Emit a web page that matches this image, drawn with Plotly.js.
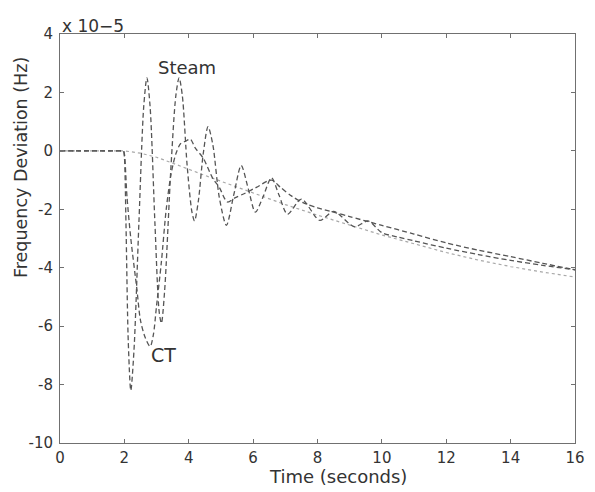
<!DOCTYPE html>
<html>
<head>
<meta charset="utf-8">
<script src="https://cdn.plot.ly/plotly-3.0.1.min.js"></script>
<style>html,body{margin:0;padding:0;background:#fff;}#chart{width:595px;height:492px;}</style>
</head>
<body>
<div id="chart"></div>
<script>
// Time axis (seconds) and frequency deviation values (x 1e-5 Hz)
const steamTime = [0, 0.5, 1.0, 1.5, 1.9, 1.97, 2.0, 2.05, 2.12, 2.2, 2.3, 2.45, 2.6, 2.7, 2.8, 2.95, 3.08, 3.15, 3.25, 3.45, 3.6, 3.7, 3.8, 3.95, 4.1, 4.18, 4.3, 4.45, 4.6, 4.75, 4.95, 5.17, 5.4, 5.63, 5.85, 6.07, 6.3, 6.57, 6.8, 7.07, 7.5, 8.07, 8.5, 9.15, 9.57, 10.0, 10.5, 11, 12, 13, 14, 15, 16];
const steamValues = [0, 0, 0, 0, 0, 0, -0.2, -2.5, -6.5, -8.2, -6.8, -2.5, 1.5, 2.5, 1.5, -2.5, -5.5, -5.9, -4.8, -0.5, 1.9, 2.5, 1.9, -0.5, -2.1, -2.4, -1.7, -0.1, 0.83, 0.2, -1.6, -2.55, -1.5, -0.5, -1.3, -2.1, -1.6, -0.92, -1.5, -2.17, -1.65, -2.38, -2.07, -2.6, -2.4, -2.8, -2.95, -3.08, -3.33, -3.55, -3.75, -3.92, -4.07];

const ctTime = [0, 0.5, 1.0, 1.5, 1.9, 1.97, 2.0, 2.08, 2.2, 2.39, 2.5, 2.65, 2.8, 2.9, 3.0, 3.15, 3.3, 3.45, 3.6, 3.75, 3.9, 4.05, 4.2, 4.45, 4.75, 4.95, 5.2, 5.45, 5.75, 6.1, 6.57, 6.85, 7.2, 7.6, 8.0, 8.5, 9, 10, 11, 12, 13, 14, 15, 16];
const ctValues = [0, 0, 0, 0, 0, 0, -0.1, -1.55, -3.0, -4.75, -5.8, -6.4, -6.7, -6.3, -5.3, -3.8, -2.0, -0.8, -0.1, 0.25, 0.33, 0.4, 0.1, -0.25, -0.95, -1.25, -1.75, -1.6, -1.45, -1.25, -1.0, -1.25, -1.55, -1.8, -1.95, -2.1, -2.25, -2.55, -2.85, -3.15, -3.4, -3.62, -3.85, -4.07];

const refTime = [0, 2, 2.5, 3, 3.5, 4, 4.5, 5, 5.5, 6, 6.5, 7, 8, 9, 10, 11, 12, 13, 14, 15, 16];
const refValues = [0, 0, -0.08, -0.22, -0.42, -0.64, -0.84, -1.04, -1.24, -1.44, -1.64, -1.84, -2.2, -2.55, -2.88, -3.18, -3.48, -3.74, -3.96, -4.15, -4.32];

const xTicks = [0, 2, 4, 6, 8, 10, 12, 14, 16];
const xTickText = ["0", "2", "4", "6", "8", "10", "12", "14", "16"];
const yTicks = [-10, -8, -6, -4, -2, 0, 2, 4];
const yTickText = ["-10", "-8", "-6", "-4", "-2", "0", "2", "4"];

const FONT = 'DejaVu Sans, Arial, sans-serif';

const traces = [
  {x: refTime, y: refValues, mode: 'lines', line: {color: '#a8a8a8', width: 1.2, dash: 'dot'}, hoverinfo: 'skip'},
  {x: ctTime, y: ctValues, mode: 'lines', line: {color: '#555555', width: 1.3, dash: '5px,3px', shape: 'spline', smoothing: 0.8}, hoverinfo: 'skip'},
  {x: steamTime, y: steamValues, mode: 'lines', line: {color: '#555555', width: 1.3, dash: '5px,3px', shape: 'spline', smoothing: 0.8}, hoverinfo: 'skip'}
];

const axisCommon = {
  showgrid: false, zeroline: false, showline: true, linecolor: '#707070', linewidth: 1,
  mirror: 'ticks', ticks: 'inside', ticklen: 4, tickcolor: '#707070',
  tickfont: {family: FONT, size: 15, color: '#333'}
};

const layout = {
  width: 595, height: 492,
  margin: {l: 60, r: 20, t: 34, b: 49},
  paper_bgcolor: '#fff', plot_bgcolor: '#fff',
  showlegend: false,
  xaxis: Object.assign({}, axisCommon, {range: [0, 16], tickvals: xTicks, ticktext: xTickText, ticklabelstandoff: 1}),
  yaxis: Object.assign({}, axisCommon, {range: [-10, 4], tickvals: yTicks, ticktext: yTickText, ticklabelstandoff: 3}),
  annotations: [
    {text: 'x 10−5', xref: 'paper', yref: 'paper', x: 0, y: 1, xanchor: 'left', yanchor: 'bottom', showarrow: false, yshift: -4,
     font: {family: FONT, size: 17, color: '#333'}},
    {text: 'Steam', xref: 'x', yref: 'y', x: 3.94, y: 2.84, showarrow: false, xanchor: 'center', yanchor: 'middle',
     font: {family: FONT, size: 18, color: '#333'}},
    {text: 'CT', xref: 'x', yref: 'y', x: 3.23, y: -7.0, showarrow: false, xanchor: 'center', yanchor: 'middle',
     font: {family: FONT, size: 19, color: '#333'}},
    {text: 'Time (seconds)', xref: 'paper', yref: 'paper', x: (338 - 60) / 515, y: 0, yshift: -33, xanchor: 'center', yanchor: 'middle', showarrow: false,
     font: {family: FONT, size: 18, color: '#333'}},
    {text: 'Frequency Deviation (Hz)', xref: 'paper', yref: 'paper', x: 0, xshift: -39, y: (443 - 168) / 409, yanchor: 'middle', xanchor: 'center', textangle: -90, showarrow: false,
     font: {family: FONT, size: 17.5, color: '#333'}}
  ]
};

Plotly.newPlot('chart', traces, layout, {staticPlot: true, displayModeBar: false});
</script>
</body>
</html>
